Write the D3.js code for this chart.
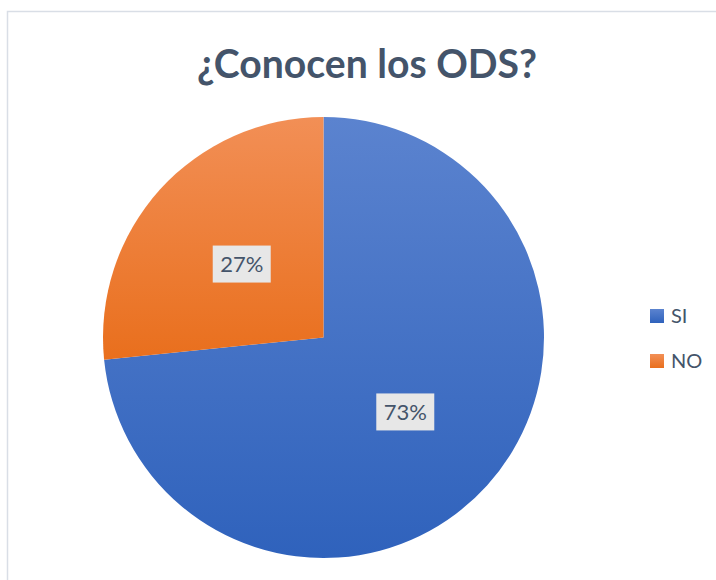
<!DOCTYPE html>
<html>
<head>
<meta charset="utf-8">
<script src="https://cdn.jsdelivr.net/npm/d3@7"></script>
<style>
  html, body { margin: 0; padding: 0; background: #fff; }
  svg { display: block; }
</style>
</head>
<body>
<script>
const categories = ["SI", "NO"];
const values = [73.4, 26.6];
const labels = ["73%", "27%"];

const width = 716, height = 580;
const cx = 323.5, cy = 337.5, radius = 220.5;
const textColor = "#44546A";
const fontFamily = "Lato, 'Open Sans', sans-serif";

// light top -> dark bottom, like the office gradient style
const gradients = {
  SI: ["#5B83CF", "#2F62BC"],
  NO: ["#F28F56", "#E96F1D"],
};

const svg = d3.select("body").append("svg")
  .attr("width", width)
  .attr("height", height);

const defs = svg.append("defs");
categories.forEach((c) => {
  const grad = defs.append("linearGradient")
    .attr("id", `grad-${c}`)
    .attr("x1", 0).attr("y1", 0)
    .attr("x2", 0).attr("y2", 1);
  grad.append("stop").attr("offset", "0%").attr("stop-color", gradients[c][0]);
  grad.append("stop").attr("offset", "100%").attr("stop-color", gradients[c][1]);
});

// chart frame
svg.append("rect")
  .attr("x", 7.5).attr("y", 11.5)
  .attr("width", 720).attr("height", 580)
  .attr("fill", "#fff")
  .attr("stroke", "#D9DEE6")
  .attr("stroke-width", 1.5);

// title, fitted to the width seen in the reference
const title = svg.append("text")
  .attr("x", 367)
  .attr("y", 78)
  .attr("text-anchor", "middle")
  .attr("font-family", fontFamily)
  .attr("font-weight", "bold")
  .attr("font-size", 40)
  .attr("fill", textColor)
  .text("¿Conocen los ODS?");
const tw = title.node().getComputedTextLength();
title.attr("font-size", 40 * 340 / tw);

const data = categories.map((c, i) => ({ cat: c, value: values[i], label: labels[i] }));

const pie = d3.pie().sort(null).value((d) => d.value);
const arc = d3.arc().innerRadius(0).outerRadius(radius);

const g = svg.append("g").attr("transform", `translate(${cx},${cy})`);
const arcs = pie(data);

g.selectAll("path.slice")
  .data(arcs)
  .join("path")
  .attr("class", "slice")
  .attr("d", arc)
  .attr("fill", (d) => `url(#grad-${d.data.cat})`);

// data labels with grey boxes at the centroid
const lab = g.selectAll("g.lab")
  .data(arcs)
  .join("g")
  .attr("class", "lab")
  .attr("transform", (d) => `translate(${arc.centroid(d)})`);

lab.append("rect")
  .attr("x", -29).attr("y", -18)
  .attr("width", 58).attr("height", 37)
  .attr("fill", "#E7E7E7");

lab.append("text")
  .attr("text-anchor", "middle")
  .attr("dy", "0.38em")
  .attr("font-family", fontFamily)
  .attr("font-size", 22)
  .attr("fill", textColor)
  .text((d) => d.data.label);

// legend
const legendY = d3.scalePoint().domain(categories).range([316, 361]);
const leg = svg.selectAll("g.legend")
  .data(categories)
  .join("g")
  .attr("class", "legend")
  .attr("transform", (c) => `translate(650,${legendY(c)})`);

leg.append("rect")
  .attr("x", 0).attr("y", -7)
  .attr("width", 14).attr("height", 14)
  .attr("fill", (c) => `url(#grad-${c})`);

leg.append("text")
  .attr("x", 21)
  .attr("dy", "0.36em")
  .attr("font-family", fontFamily)
  .attr("font-size", 20)
  .attr("fill", textColor)
  .text((c) => c);
</script>
</body>
</html>
